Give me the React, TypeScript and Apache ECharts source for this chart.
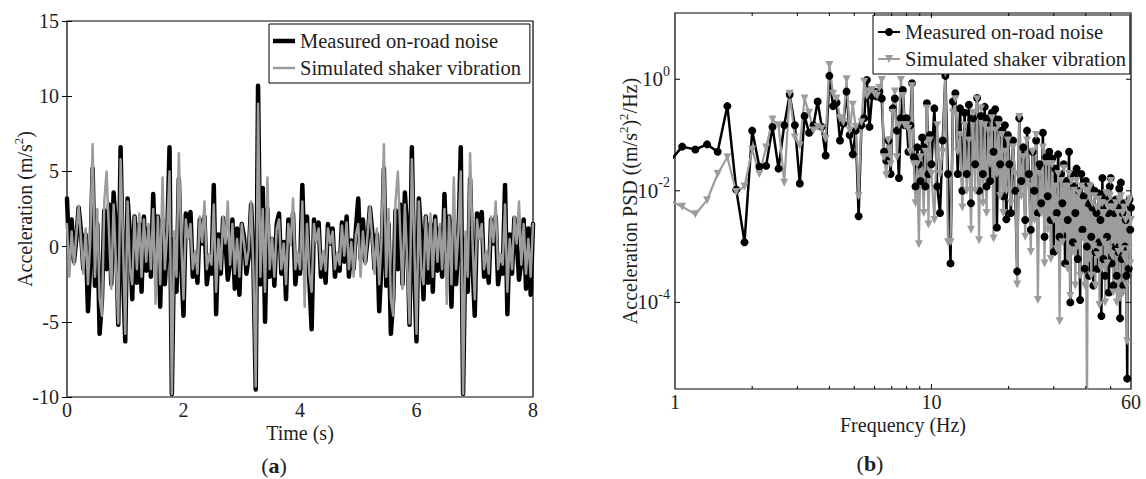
import React, { useEffect, useRef } from "react";
import * as echarts from "echarts";

// ---------------- Panel (a): time history ----------------
const SAMPLE_DT = 0.04; // s between samples
const ACC_MEASURED = [
  3.2, -0.8, 1.8, -1.0, 0.5, 2.6, 1.0, -1.5, 0.8, -4.3,
  -1.0, 5.2, -2.6, 1.5, -5.8, -3.5, 2.4, -1.5, 2.8, -2.5,
  3.6, 1.2, -5.2, 6.6, -1.5, -6.3, 3.2, 0.8, -3.5, 2.0,
  -2.4, 1.5, -3.0, 2.0, -1.6, 1.2, -2.0, 3.5, -1.0, 2.0,
  -4.0, 1.8, -2.5, 0.5, 6.6, -9.8, 0.5, -3.0, 4.5, -1.0,
  -4.6, 2.2, 1.0, 2.3, -2.0, -0.5, -2.4, 1.8, 0.2, 2.0,
  -2.5, -1.2, -1.8, 4.1, -4.5, 0.8, -1.8, 1.9, 0.4, -2.2,
  -1.0, 1.8, -2.8, 1.2, -3.2, 1.5, 0.6, -1.8, -0.6, 2.8,
  -1.0, -9.5, 10.7, -2.5, 3.9, -5.0, 2.5, -2.0, 0.5, -2.6,
  1.5, 2.2, -1.8, 0.3, -3.5, 1.8, 0.2, 2.2, -2.5, -0.8,
  -1.8, 4.1, -1.5, 2.0, -2.2, -5.5, 1.8, 0.4, 1.6, -2.0,
  -0.6, -2.4, 1.5, 0.2, 1.2, -2.0, -0.8, -1.6, 1.6, -1.0,
  2.0, -2.0, 0.4, -1.5, 1.2,
  3.2, -0.8, 1.8, -1.0, 0.5, 2.6, 1.0, -1.5, 0.8, -4.3,
  -1.0, 5.2, -2.6, 1.5, -5.8, -3.5, 2.4, -1.5, 2.8, -2.5,
  3.6, 1.2, -5.2, 6.6, -1.5, -6.3, 3.2, 0.8, -3.5, 2.0,
  -2.4, 1.5, -3.0, 2.0, -1.6, 1.2, -2.0, 3.5, -1.0, 2.0,
  -4.0, 1.8, -2.5, 0.5, 6.6, -9.8, 0.5, -3.0, 4.5, -1.0,
  -4.6, 2.2, 1.0, 2.3, -2.0, -0.5, -2.4, 1.8, 0.2, 2.0,
  -2.5, -1.2, -1.8, 4.1, -4.5, 0.8, -1.8, 1.9, 0.4, -2.2,
  -1.0, 1.8, -2.8, 1.2, -3.2, 1.5,
];
const ACC_SIMULATED = [
  1.5, -2.0, 1.0, -1.2, 0.8, 2.7, 0.5, -1.8, 1.2, -2.5,
  0.5, 6.8, -2.0, 2.5, -3.5, -4.6, 3.0, 5.0, 1.0, -2.8,
  2.8, -1.0, -5.1, 5.8, 0.5, -5.8, 3.0, -1.5, -2.5, 2.0,
  -1.5, 2.2, -2.0, 1.8, -1.0, 1.5, -1.5, 2.5, -3.8, 2.0,
  -2.5, 4.6, -1.5, 1.0, 5.0, -9.8, 1.0, -2.0, 6.2, 0.5,
  -3.5, 1.8, 0.5, 1.5, -1.5, -0.3, -1.8, 2.0, 0.3, 3.0,
  -1.5, -0.5, -1.2, 2.8, -3.0, 0.5, -1.5, 2.0, 0.2, 3.0,
  -1.2, 1.5, -1.8, 0.5, -2.0, 1.5, 0.2, -1.2, -0.2, 3.0,
  -1.5, -9.3, 9.5, -2.0, 2.5, -3.0, 4.6, -1.5, 0.6, -2.0,
  1.2, 1.8, -1.5, 0.2, -2.5, 1.5, 0.1, 3.2, -1.5, -0.4,
  -1.5, 3.0, -4.0, 1.5, -1.8, -3.0, 1.5, 0.3, 1.2, -1.5,
  -0.3, -1.6, 1.2, 0.2, 1.0, -1.5, -0.4, -1.2, 1.4, -0.6,
  1.6, -1.5, 0.3, -2.0, 0.8,
  1.5, -2.0, 1.0, -1.2, 0.8, 2.7, 0.5, -1.8, 1.2, -2.5,
  0.5, 6.8, -2.0, 2.5, -3.5, -4.6, 3.0, 5.0, 1.0, -2.8,
  2.8, -1.0, -5.1, 5.8, 0.5, -5.8, 3.0, -1.5, -2.5, 2.0,
  -1.5, 2.2, -2.0, 1.8, -1.0, 1.5, -1.5, 2.5, -3.8, 2.0,
  -2.5, 4.6, -1.5, 1.0, 5.0, -9.8, 1.0, -2.0, 6.2, 0.5,
  -3.5, 1.8, 0.5, 1.5, -1.5, -0.3, -1.8, 2.0, 0.3, 3.0,
  -1.5, -0.5, -1.2, 2.8, -3.0, 0.5, -1.5, 2.0, 0.2, 3.0,
  -1.2, 1.5, -1.8, 0.5, -2.0, 1.5,
];
const TIME_AXIS = { min: 0, max: 8, interval: 2 };
const ACC_AXIS = { min: -10, max: 15, interval: 5 };

// ---------------- Panel (b): PSD ----------------
const DF = 2 / 15; // Hz per bin
function range(a: number, b: number, s: number) {
  const r: number[] = [];
  for (let k = a; k <= b; k += s) r.push(k);
  return r;
}
const PSD_BINS = [...range(7, 75, 1), ...range(77, 151, 2), ...range(153, 450, 3)];
const FREQ_HZ = PSD_BINS.map((k) => +(k * DF).toFixed(4));

const PSD_MEASURED_LOW = [
  0.03, 0.062, 0.055, 0.068, 0.05, 0.33, 0.0105, 0.0012, 0.12, 0.027,
  0.028, 0.14, 0.025, 0.15, 0.53, 0.15, 0.0135, 0.22, 0.11, 0.15,
  0.40, 0.14, 0.043, 1.15, 0.33, 0.38, 0.08, 0.16, 0.6, 0.1,
  0.045, 0.12, 0.0035, 0.15, 0.2, 0.97, 0.14, 0.5, 0.6, 0.49,
  0.6, 0.45, 0.05, 0.035, 0.08, 0.02, 0.3, 0.45, 0.12, 0.017,
  0.2, 0.64, 0.15, 0.2, 0.05, 0.15, 0.85, 0.04, 0.012, 0.06,
  0.03, 0.015, 0.09, 0.06, 0.012, 0.37, 0.02, 0.1, 0.03,
];
const PSD_MEASURED_MID = [
  0.3, 0.012, 0.004, 0.08, 1.15, 0.02, 0.0005, 0.4, 0.56, 0.02,
  0.3, 0.01, 0.25, 0.02, 0.35, 0.006, 0.2, 0.03, 0.46, 0.01,
  0.22, 0.02, 0.32, 0.012, 0.2, 0.015, 0.25, 0.05, 0.29, 0.0022,
  0.19, 0.03, 0.12, 0.008, 0.15, 0.0031, 0.1, 0.03,
];
const PSD_MEASURED_HIGH = [
  0.004, 0.08, 0.01, 0.00036, 0.2, 0.015, 0.06, 0.003, 0.12, 0.02,
  0.002, 0.05, 0.01, 0.08, 0.004, 0.03, 0.006, 0.11, 0.0015, 0.04,
  0.008, 0.05, 0.003, 0.038, 0.0008, 0.025, 0.004, 0.045, 0.0015, 0.02,
  0.006, 0.03, 0.0005, 0.015, 0.003, 0.05, 0.0001, 0.02, 0.0012, 0.012,
  0.004, 0.025, 0.0006, 0.01, 0.00011, 0.02, 0.002, 0.008, 0.0004, 0.015,
  0.001, 0.006, 0.0003, 0.012, 0.0015, 0.005, 0.0002, 0.01, 0.0008, 0.004,
  0.0004, 0.009, 0.0012, 0.003, 0.000057, 0.017, 0.0006, 0.005, 0.0003, 0.008,
  0.0015, 0.004, 0.00015, 0.012, 0.017, 0.0005, 0.006, 0.0002, 0.004, 0.001,
  0.007, 0.0003, 0.005, 0.0008, 0.011, 0.000052, 0.014, 0.0006, 0.004, 0.0002,
  0.006, 0.001, 0.003, 0.0003, 0.0000043, 0.006, 0.0004, 0.007, 0.002, 0.005,
];
const PSD_SIMULATED_LOW = [
  0.007, 0.0052, 0.0038, 0.0068, 0.02, 0.04, 0.0095, 0.012, 0.055, 0.02,
  0.06, 0.19, 0.15, 0.014, 0.55, 0.09, 0.065, 0.45, 0.25, 0.12,
  0.14, 0.13, 0.085, 1.8, 0.55, 0.45, 0.2, 0.17, 1.0, 0.12,
  0.35, 0.14, 0.008, 0.17, 0.9, 0.5, 0.6, 0.64, 0.55, 0.5,
  0.7, 0.97, 0.04, 0.019, 0.08, 0.03, 0.25, 0.6, 0.04, 0.15,
  0.97, 0.5, 0.15, 0.15, 0.13, 0.05, 0.75, 0.03, 0.006, 0.03,
  0.0011, 0.04, 0.02, 0.004, 0.05, 0.3, 0.0025, 0.08, 0.02,
];
const PSD_SIMULATED_MID = [
  0.003, 0.15, 0.02, 0.05, 1.28, 0.0012, 0.0012, 0.25, 0.44, 0.05,
  0.1, 0.005, 0.15, 0.01, 0.08, 0.002, 0.25, 0.01, 0.44, 0.0013,
  0.3, 0.006, 0.15, 0.004, 0.12, 0.03, 0.2, 0.0014, 0.12, 0.02,
  0.15, 0.008, 0.1, 0.004, 0.05, 0.01, 0.08, 0.01,
];
const PSD_SIMULATED_HIGH = [
  0.006, 0.06, 0.02, 0.00021, 0.21, 0.008, 0.04, 0.0015, 0.08, 0.012,
  0.0008, 0.05, 0.003, 0.1, 0.00011, 0.02, 0.004, 0.06, 0.0005, 0.03,
  0.002, 0.03, 0.0006, 0.03, 0.003, 0.012, 0.0009, 0.02, 0.000046, 0.015,
  0.0012, 0.025, 0.002, 0.012, 0.0004, 0.02, 0.00013, 0.015, 0.0008, 0.01,
  0.0002, 0.015, 0.001, 0.009, 0.0003, 0.012, 0.0015, 0.006, 0.0002, 0.01,
  0.0000008, 0.01, 0.0006, 0.012, 0.0003, 0.006, 0.001, 0.008, 0.0002, 0.005,
  0.0007, 0.007, 0.00009, 0.006, 0.0004, 0.006, 0.0012, 0.004, 0.0001, 0.009,
  0.0005, 0.005, 0.0009, 0.008, 0.015, 0.0007, 0.005, 0.00015, 0.005, 0.0012,
  0.006, 0.0001, 0.004, 0.0008, 0.007, 0.00012, 0.008, 0.0009, 0.004, 0.00015,
  0.005, 0.0006, 0.003, 0.0002, 0.00002, 0.006, 0.0009, 0.007, 0.0005, 0.003,
];
const PSD_MEASURED = [...PSD_MEASURED_LOW, ...PSD_MEASURED_MID, ...PSD_MEASURED_HIGH];
const PSD_SIMULATED = [...PSD_SIMULATED_LOW, ...PSD_SIMULATED_MID, ...PSD_SIMULATED_HIGH];

const FREQ_AXIS = { min: 1, max: 60 };
const PSD_AXIS = { min: 2.8e-6, max: 15.4 };
const FREQ_TICKS_MINOR = [2, 3, 4, 5, 6, 7, 8, 9, 20, 30, 40, 50];
const FREQ_TICKS_MAJOR = [10];
const PSD_TICKS = [1, 0.01, 0.0001];

const LEGEND_TEXT: Record<string, string> = {
  mA: "Measured on-road noise",
  sA: "Simulated shaker vibration",
  mB: "Measured on-road noise",
  sB: "Simulated shaker vibration",
};

const FONT = "'Liberation Serif', 'Times New Roman', serif";
const TXT = "#1e1e1e";
const GRAY = "#9c9c9c";

export default function App() {
  const ref = useRef<HTMLDivElement>(null);
  useEffect(() => {
    if (!ref.current) return;
    const chart = echarts.init(ref.current, undefined, { renderer: "svg" });

    const timeMeasured = ACC_MEASURED.map((v, i) => [+(i * SAMPLE_DT).toFixed(2), v]);
    const timeSimulated = ACC_SIMULATED.map((v, i) => [+(i * SAMPLE_DT).toFixed(2), v]);
    const psdMeasured = FREQ_HZ.map((f, i) => [f, PSD_MEASURED[i]]).filter((d) => d[1] != null);
    const psdSimulated = FREQ_HZ.map((f, i) => [f, PSD_SIMULATED[i]]).filter((d) => d[1] != null);

    const tickData = [
      ...FREQ_TICKS_MINOR.map((f) => [f, 1, 0, 3]),
      ...FREQ_TICKS_MAJOR.map((f) => [f, 1, 0, 5]),
      ...PSD_TICKS.map((v) => [1, v, 1, 5]),
    ];

    const labelStyle = { fontFamily: FONT, fontSize: 20, color: TXT };
    const nameStyle = { fontFamily: FONT, fontSize: 20, color: TXT };
    const supName = {
      fontFamily: FONT,
      fontSize: 20,
      color: TXT,
      rich: {
        n: { fontFamily: FONT, fontSize: 20, color: TXT, lineHeight: 26 },
        s: { fontFamily: FONT, fontSize: 13, color: TXT, lineHeight: 13, verticalAlign: "top" },
      },
    };
    const tick = { show: true, inside: true, length: 5, lineStyle: { color: "#000", width: 1 } };

    const legendCommon = {
      orient: "vertical",
      itemGap: 3,
      itemWidth: 22,
      itemHeight: 10,
      borderColor: "#000",
      borderWidth: 1,
      backgroundColor: "#fff",
      selectedMode: false,
      formatter: (n: string) => LEGEND_TEXT[n],
      textStyle: { fontFamily: FONT, fontSize: 20.5, color: TXT, lineHeight: 24 },
    };

    const option: any = {
      animation: false,
      backgroundColor: "#fff",
      textStyle: { fontFamily: FONT },
      grid: [
        { left: 67, top: 21, width: 466, height: 376, show: true, borderColor: "#000", borderWidth: 1.2 },
        { left: 675, top: 13, width: 456, height: 376, show: true, borderColor: "#000", borderWidth: 1.2 },
      ],
      xAxis: [
        {
          type: "value", gridIndex: 0, position: "bottom", ...TIME_AXIS,
          axisLine: { show: false }, axisTick: tick, splitLine: { show: false },
          axisLabel: { ...labelStyle, margin: 3 },
          name: "Time (s)", nameLocation: "middle", nameGap: 26, nameTextStyle: nameStyle,
          nameMoveOverlap: false,
        },
        {
          type: "value", gridIndex: 0, position: "top", ...TIME_AXIS,
          axisLine: { show: false }, axisTick: tick, splitLine: { show: false },
          axisLabel: { show: false },
        },
        {
          type: "log", gridIndex: 1, position: "bottom", logBase: 10, ...FREQ_AXIS,
          axisLine: { show: false }, axisTick: { show: false }, splitLine: { show: false },
          minorTick: { show: false },
          axisLabel: { ...labelStyle, margin: 3, formatter: (v: number) => String(Math.round(v)) },
          name: "Frequency (Hz)", nameLocation: "middle", nameGap: 26, nameTextStyle: nameStyle,
          nameMoveOverlap: false,
        },
      ],
      yAxis: [
        {
          type: "value", gridIndex: 0, position: "left", ...ACC_AXIS,
          axisLine: { show: false }, axisTick: tick, splitLine: { show: false },
          axisLabel: { ...labelStyle, margin: 8 },
          name: "{n|Acceleration (m/s}{s|2}{n|)}", nameLocation: "middle", nameGap: 29, nameRotate: 90,
          nameTextStyle: supName, nameMoveOverlap: false,
        },
        {
          type: "value", gridIndex: 0, position: "right", ...ACC_AXIS,
          axisLine: { show: false }, axisTick: tick, splitLine: { show: false },
          axisLabel: { show: false },
        },
        {
          type: "log", gridIndex: 1, position: "left", logBase: 10, ...PSD_AXIS,
          axisLine: { show: false }, axisTick: { show: false }, splitLine: { show: false },
          minorTick: { show: false },
          axisLabel: {
            ...labelStyle,
            margin: 5,
            formatter: (v: number) => {
              const e = Math.log10(v);
              const r = Math.round(e);
              if (Math.abs(e - r) > 1e-6 || r % 2 !== 0 || r > 0 || r < -4) return "";
              return "{m|10}{s|" + (r === 0 ? "0" : String(r)) + "}";
            },
            rich: {
              m: { fontFamily: FONT, fontSize: 21, color: TXT, lineHeight: 30 },
              s: { fontFamily: FONT, fontSize: 14, color: TXT, lineHeight: 14, verticalAlign: "top" },
            },
          },
          name: "{n|Acceleration PSD ((m/s}{s|2}{n|)}{s|2}{n|/Hz)}", nameLocation: "middle", nameGap: 32, nameRotate: 90,
          nameTextStyle: supName, nameMoveOverlap: false,
        },
      ],
      legend: [
        {
          ...legendCommon, left: 269, top: 24, padding: [5, 9, 3, 4],
          data: [
            { name: "mA", icon: "path://M0 0H22V4.5H0Z" },
            { name: "sA", icon: "path://M0 0H22V2.5H0Z" },
          ],
        },
        { ...legendCommon, left: 873, top: 15, padding: [5, 4, 3, 4], data: ["mB", "sB"] },
      ],
      series: [
        {
          name: "mA", type: "line", xAxisIndex: 0, yAxisIndex: 0, data: timeMeasured,
          symbol: "none", silent: true,
          lineStyle: { color: "#000", width: 4.5, join: "round", cap: "round" },
          itemStyle: { color: "#000" },
        },
        {
          name: "sA", type: "line", xAxisIndex: 0, yAxisIndex: 0, data: timeSimulated,
          symbol: "none", silent: true,
          lineStyle: { color: GRAY, width: 2.5, join: "round", cap: "round" },
          itemStyle: { color: GRAY },
        },
        {
          name: "mB", type: "line", xAxisIndex: 2, yAxisIndex: 2, data: psdMeasured,
          symbol: "circle", symbolSize: 8, showAllSymbol: true, silent: true,
          lineStyle: { color: "#000", width: 2.5 },
          itemStyle: { color: "#000" },
        },
        {
          name: "sB", type: "line", xAxisIndex: 2, yAxisIndex: 2, data: psdSimulated,
          symbol: "triangle", symbolRotate: 180, symbolSize: 8, showAllSymbol: true, silent: true,
          lineStyle: { color: GRAY, width: 2.2 },
          itemStyle: { color: GRAY },
        },
        {
          name: "ticks", type: "custom", xAxisIndex: 2, yAxisIndex: 2, silent: true, z: 5,
          clip: false,
          data: tickData,
          renderItem: (params: any, api: any) => {
            const cs = params.coordSys;
            const p = api.coord([api.value(0), api.value(1)]);
            const kind = api.value(2);
            const len = api.value(3);
            const st = { stroke: "#000", lineWidth: 1 };
            if (kind === 0) {
              const yb = cs.y + cs.height;
              return {
                type: "group",
                children: [
                  { type: "line", shape: { x1: p[0], y1: yb, x2: p[0], y2: yb - len }, style: st },
                  { type: "line", shape: { x1: p[0], y1: cs.y, x2: p[0], y2: cs.y + len }, style: st },
                ],
              };
            }
            const xr = cs.x + cs.width;
            return {
              type: "group",
              children: [
                { type: "line", shape: { x1: cs.x, y1: p[1], x2: cs.x + len, y2: p[1] }, style: st },
                { type: "line", shape: { x1: xr, y1: p[1], x2: xr - len, y2: p[1] }, style: st },
              ],
            };
          },
        },
      ],
      graphic: [
        {
          type: "text", x: 274, y: 465,
          style: {
            text: "({b|a})", fontFamily: FONT, fontSize: 22, fill: TXT, align: "center", verticalAlign: "middle",
            rich: { b: { fontFamily: FONT, fontSize: 22, fontWeight: "bold", fill: TXT } },
          },
        },
        {
          type: "text", x: 870, y: 463,
          style: {
            text: "({b|b})", fontFamily: FONT, fontSize: 22, fill: TXT, align: "center", verticalAlign: "middle",
            rich: { b: { fontFamily: FONT, fontSize: 22, fontWeight: "bold", fill: TXT } },
          },
        },
      ],
    };

    chart.setOption(option);
    return () => chart.dispose();
  }, []);

  return (
    <div
      ref={ref}
      style={{ position: "fixed", left: 0, top: 0, width: 1146, height: 479, background: "#fff" }}
    />
  );
}
